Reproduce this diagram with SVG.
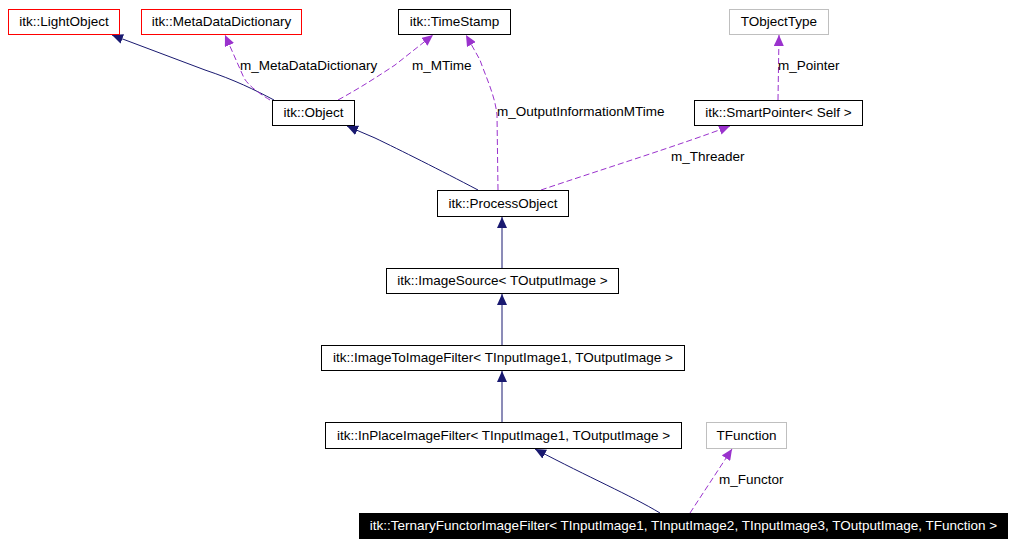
<svg xmlns="http://www.w3.org/2000/svg" width="1014" height="546" viewBox="0 0 1014 546">
<style>
text{font-family:"Liberation Sans",Arial,sans-serif;font-size:13.5px;fill:#000}
.n{fill:#fff;stroke:#000;stroke-width:1}
.r{fill:#fff;stroke:#ff0000;stroke-width:1}
.g{fill:#fff;stroke:#bfbfbf;stroke-width:1}
.b{fill:#000;stroke:#000}
.w{fill:#fff}
.m{text-anchor:middle}
.inh{fill:none;stroke:#191970;stroke-width:1;marker-end:url(#ah)}
.use{fill:none;stroke:#9a32cd;stroke-width:1;stroke-dasharray:6,3;marker-end:url(#ap)}
</style>
<defs>
<marker id="ah" markerUnits="userSpaceOnUse" markerWidth="12" markerHeight="10" refX="11" refY="5" orient="auto"><path d="M0,0 L11,5 L0,10 z" fill="#191970"/></marker>
<marker id="ap" markerUnits="userSpaceOnUse" markerWidth="12" markerHeight="10" refX="11" refY="5" orient="auto"><path d="M0,0 L11,5 L0,10 z" fill="#9a32cd"/></marker>
</defs>
<rect width="1014" height="546" fill="#fff"/>
<g id="connectors">
<path class="inh" d="M274,100 C255,90 235,80 205,70 L112,35"/>
<path class="use" d="M270,100 Q250,88 244,78 L225,35"/>
<path class="use" d="M338,100 C360,88 380,75 395,65 L433,35"/>
<path class="use" d="M498,190 L497,115 C495,95 485,75 480,60 L466,35"/>
<path class="inh" d="M478,190 C440,170 400,150 375,138 L347,126"/>
<path class="use" d="M541,190 C600,170 680,145 730,126"/>
<path class="use" d="M778,100 L779,35"/>
<path class="inh" d="M502,268 L502,217"/>
<path class="inh" d="M502,345 L502,294"/>
<path class="inh" d="M502,422 L502,371"/>
<path class="inh" d="M660,513 C630,495 590,478 535,449"/>
<path class="use" d="M690,513 L732,449"/>
<text x="240" y="70">m_MetaDataDictionary</text>
<text x="412" y="70">m_MTime</text>
<text x="497" y="116">m_OutputInformationMTime</text>
<text x="778" y="70">m_Pointer</text>
<text x="671" y="161">m_Threader</text>
<text x="719" y="484">m_Functor</text>
</g>
<g id="LightObject"><rect class="r" x="8.5" y="9.5" width="111" height="25"/><text class="m" x="64" y="26">itk::LightObject</text></g>
<g id="MetaDataDictionary"><rect class="r" x="141.5" y="9.5" width="160" height="25"/><text class="m" x="221.5" y="26">itk::MetaDataDictionary</text></g>
<g id="TimeStamp"><rect class="n" x="398.5" y="9.5" width="112" height="25"/><text class="m" x="454.5" y="26">itk::TimeStamp</text></g>
<g id="TObjectType"><rect class="g" x="729.5" y="9.5" width="99" height="25"/><text class="m" x="779" y="26">TObjectType</text></g>
<g id="Object"><rect class="n" x="272.5" y="100.5" width="82" height="25"/><text class="m" x="313.5" y="117">itk::Object</text></g>
<g id="SmartPointer"><rect class="n" x="694.5" y="100.5" width="168" height="25"/><text class="m" x="778.5" y="117">itk::SmartPointer&lt; Self &gt;</text></g>
<g id="ProcessObject"><rect class="n" x="437.5" y="190.5" width="131" height="26"/><text class="m" x="503" y="208">itk::ProcessObject</text></g>
<g id="ImageSource"><rect class="n" x="386.5" y="268.5" width="232" height="25"/><text class="m" x="502.5" y="285">itk::ImageSource&lt; TOutputImage &gt;</text></g>
<g id="ImageToImageFilter"><rect class="n" x="321.5" y="345.5" width="363" height="25"/><text class="m" x="503" y="362">itk::ImageToImageFilter&lt; TInputImage1, TOutputImage &gt;</text></g>
<g id="InPlaceImageFilter"><rect class="n" x="325.5" y="422.5" width="356" height="26"/><text class="m" x="503.5" y="440">itk::InPlaceImageFilter&lt; TInputImage1, TOutputImage &gt;</text></g>
<g id="TFunction"><rect class="g" x="706.5" y="422.5" width="80" height="26"/><text class="m" x="746.5" y="440">TFunction</text></g>
<g id="TernaryFunctorImageFilter"><rect class="b" x="359.5" y="513.5" width="648" height="25"/><text class="m w" x="683.5" y="530">itk::TernaryFunctorImageFilter&lt; TInputImage1, TInputImage2, TInputImage3, TOutputImage, TFunction &gt;</text></g>
</svg>
